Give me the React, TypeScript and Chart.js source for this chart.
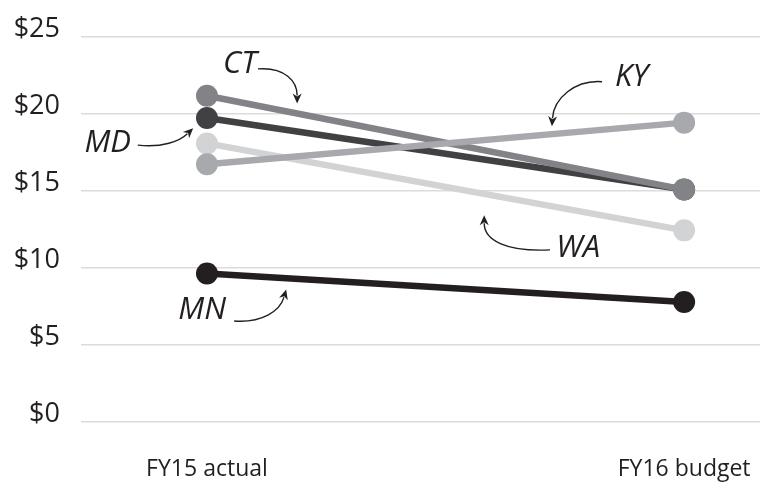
import React, { useEffect, useRef } from "react";
import { Chart, registerables } from "chart.js";

Chart.register(...registerables);

const categories = ["FY15 actual", "FY16 budget"];
const yTicks = [0, 5, 10, 15, 20, 25];

const seriesNames = ["CT", "MD", "WA", "KY", "MN"];
const ctValues = [21.2, 15.1];
const mdValues = [19.75, 15.1];
const waValues = [18.1, 12.45];
const kyValues = [16.75, 19.45];
const mnValues = [9.65, 7.8];

const seriesColors = ["#818386", "#414042", "#d1d3d4", "#a7a9ac", "#231f20"];
const seriesOrder = [2, 3, 5, 1, 0];

// annotation labels: text anchor and arrow path (start, c1, c2, tip) in data space
const labelTexts = ["CT", "MD", "KY", "WA", "MN"];
const labelAnchors = [
  [0.069, 23.26],
  [-0.208, 18.12],
  [0.89, 22.43],
  [0.778, 11.31],
  [-0.01, 7.26],
];
const arrowPaths = [
  [[0.107, 22.94], [0.164, 23.07], [0.189, 22.11], [0.189, 20.69]],
  [[-0.145, 17.99], [-0.094, 17.8], [-0.057, 18.25], [-0.029, 19.09]],
  [[0.828, 22.11], [0.771, 22.24], [0.727, 21.02], [0.723, 19.22]],
  [[0.719, 11.18], [0.625, 11.05], [0.581, 11.83], [0.581, 13.43]],
  [[0.057, 6.56], [0.115, 6.43], [0.153, 7.2], [0.166, 8.61]],
];

const FONT = "'Open Sans', 'Noto Sans', sans-serif";
const INK = "#231f20";

const annotationPlugin = {
  id: "labelArrows",
  afterDatasetsDraw(chart: any) {
    const ctx = chart.ctx;
    const xs = chart.scales.x;
    const ys = chart.scales.y;
    const px = (p: number[]) => [xs.getPixelForValue(p[0]), ys.getPixelForValue(p[1])];
    ctx.save();
    ctx.fillStyle = INK;
    ctx.strokeStyle = INK;
    ctx.font = `italic 31px ${FONT}`;
    ctx.textAlign = "center";
    ctx.textBaseline = "middle";
    labelTexts.forEach((t, i) => {
      const [x, y] = px(labelAnchors[i]);
      ctx.fillText(t, x, y);
      const pts = arrowPaths[i].map(px);
      const tip = pts[3];
      const c2 = pts[2];
      const ang = Math.atan2(tip[1] - c2[1], tip[0] - c2[0]);
      const headLen = 10;
      const headW = 4.5;
      const bx = tip[0] - Math.cos(ang) * headLen;
      const by = tip[1] - Math.sin(ang) * headLen;
      ctx.lineWidth = 1.4;
      ctx.beginPath();
      ctx.moveTo(pts[0][0], pts[0][1]);
      ctx.bezierCurveTo(pts[1][0], pts[1][1], c2[0], c2[1], bx + Math.cos(ang) * 2, by + Math.sin(ang) * 2);
      ctx.stroke();
      ctx.beginPath();
      ctx.moveTo(tip[0], tip[1]);
      ctx.lineTo(bx - Math.sin(ang) * headW, by + Math.cos(ang) * headW);
      ctx.lineTo(bx + Math.cos(ang) * 3, by + Math.sin(ang) * 3);
      ctx.lineTo(bx + Math.sin(ang) * headW, by - Math.cos(ang) * headW);
      ctx.closePath();
      ctx.fill();
    });
    ctx.restore();
  },
};

export default function App() {
  const ref = useRef<HTMLCanvasElement | null>(null);
  useEffect(() => {
    document.body.style.margin = "0";
    const all = [ctValues, mdValues, waValues, kyValues, mnValues];
    const chart = new Chart(ref.current!, {
      type: "line",
      data: {
        datasets: all.map((vals, i) => ({
          label: seriesNames[i],
          data: vals.map((v, j) => ({ x: j, y: v })),
          borderColor: seriesColors[i],
          backgroundColor: seriesColors[i],
          pointBackgroundColor: seriesColors[i],
          pointBorderWidth: 0,
          pointRadius: 11,
          borderWidth: 6.5,
          order: seriesOrder[i],
          tension: 0,
          clip: false as any,
        })),
      },
      options: {
        animation: false,
        responsive: true,
        maintainAspectRatio: false,
        layout: { autoPadding: false, padding: { top: 33, left: 0, right: 0, bottom: 0 } },
        plugins: { legend: { display: false }, tooltip: { enabled: false } },
        scales: {
          x: {
            type: "linear",
            min: -0.264,
            max: 1.159,
            grid: { display: false, drawTicks: true, tickLength: 34 },
            border: { display: false },
            afterBuildTicks: (s: any) => {
              s.ticks = categories.map((_, i) => ({ value: i }));
            },
            afterFit: (s: any) => {
              s.height = 60;
              s.paddingLeft = 0;
              s.paddingRight = 0;
            },
            ticks: {
              autoSkip: false,
              maxRotation: 0,
              padding: 0,
              color: INK,
              font: { family: FONT, size: 23 },
              callback: (v: any) => categories[v] ?? "",
            },
          },
          y: {
            min: 0,
            max: 25,
            afterBuildTicks: (s: any) => {
              s.ticks = yTicks.map((v) => ({ value: v }));
            },
            afterFit: (s: any) => {
              s.width = 81;
            },
            grid: { color: "#dcdcdc", lineWidth: 1.5, drawTicks: false },
            border: { display: false },
            ticks: {
              padding: 21,
              labelOffset: -8,
              color: INK,
              font: { family: FONT, size: 27 },
              callback: (v: any) => "$" + v,
            },
          },
        },
      },
      plugins: [annotationPlugin],
    });
    return () => chart.destroy();
  }, []);
  return (
    <div style={{ position: "absolute", left: 0, top: 0, width: 760, height: 482 }}>
      <canvas ref={ref} />
    </div>
  );
}
